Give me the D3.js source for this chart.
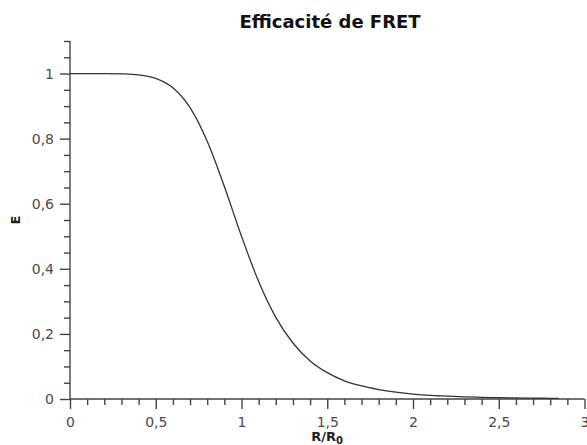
<!DOCTYPE html>
<html>
<head>
<meta charset="utf-8">
<script src="https://cdn.jsdelivr.net/npm/d3@7"></script>
<style>
html,body{margin:0;padding:0;background:#fff;}
svg{display:block;}
text{font-family:"DejaVu Sans",Verdana,sans-serif;}
</style>
</head>
<body>
<svg id="chart" width="587" height="445"></svg>
<script>
// Data
const rValues = [0, 0.1, 0.2, 0.3, 0.4, 0.5, 0.6, 0.7, 0.8, 0.9, 1.0, 1.1, 1.2, 1.3, 1.4, 1.5, 1.6, 1.7, 1.8, 1.9, 2.0, 2.1, 2.2, 2.3, 2.4, 2.5, 2.6, 2.7, 2.8, 2.85];
const eValues = [1.0, 1.0, 1.0, 0.999, 0.996, 0.985, 0.956, 0.895, 0.792, 0.653, 0.50, 0.361, 0.251, 0.172, 0.117, 0.081, 0.056, 0.040, 0.029, 0.021, 0.015, 0.011, 0.0088, 0.0067, 0.0052, 0.0041, 0.0032, 0.0026, 0.0021, 0.0019];
const xTicks = [0, 0.5, 1, 1.5, 2, 2.5, 3];
const xTickLabels = ["0", "0,5", "1", "1,5", "2", "2,5", "3"];
const yTicks = [0, 0.2, 0.4, 0.6, 0.8, 1];
const yTickLabels = ["0", "0,2", "0,4", "0,6", "0,8", "1"];
const title = "Efficacité de FRET";
const yLabel = "E";

const svg = d3.select("#chart");
const x = d3.scaleLinear().domain([0, 3]).range([70, 584.5]);
const y = d3.scaleLinear().domain([0, 1.1]).range([399, 41]);
const axisColor = "#444";

// minor ticks
const xMinor = d3.range(0, 31).map(i => i / 10).filter(v => !xTicks.some(t => Math.abs(t - v) < 1e-9));
const yMinor = d3.range(0, 23).map(i => i / 20).filter(v => !yTicks.some(t => Math.abs(t - v) < 1e-9));

const gx = svg.append("g").attr("transform", `translate(0,${y(0)})`);
gx.call(d3.axisBottom(x).tickValues(xTicks).tickSize(10).tickPadding(8)
  .tickFormat((d, i) => xTickLabels[i]));
const gxm = svg.append("g").attr("transform", `translate(0,${y(0)})`);
gxm.call(d3.axisBottom(x).tickValues(xMinor).tickSize(6).tickFormat(""));
gxm.select(".domain").remove();

const gy = svg.append("g").attr("transform", `translate(${x(0)},0)`);
gy.call(d3.axisLeft(y).tickValues(yTicks).tickSize(10).tickPadding(6)
  .tickFormat((d, i) => yTickLabels[i]));
const gym = svg.append("g").attr("transform", `translate(${x(0)},0)`);
gym.call(d3.axisLeft(y).tickValues(yMinor).tickSize(6).tickFormat(""));
gym.select(".domain").remove();

[gx, gxm, gy, gym].forEach(g => {
  g.selectAll(".domain").attr("stroke", axisColor).attr("stroke-width", 1.4);
  g.selectAll(".tick line").attr("stroke", axisColor).attr("stroke-width", 1.4);
  g.selectAll(".tick text").attr("fill", "#4a4a4a").style("font-size", "14px")
    .style("font-family", "'DejaVu Sans', sans-serif");
});
gx.select(".domain").attr("d", `M${x(0)},0H${x(3)}`);
gy.select(".domain").attr("d", `M0,${y(0)}V${y(1.1)}`);

// curve
const pts = rValues.map((r, i) => [r, eValues[i]]);
svg.append("path")
  .datum(pts)
  .attr("fill", "none")
  .attr("stroke", "#333")
  .attr("stroke-width", 1.3)
  .attr("d", d3.line().x(d => x(d[0])).y(d => y(d[1])).curve(d3.curveMonotoneX));

// title
svg.append("text")
  .attr("x", 330).attr("y", 28)
  .attr("text-anchor", "middle")
  .style("font-size", "18px").style("font-weight", "bold")
  .attr("fill", "#111")
  .text(title);

// x label R/R0
const xl = svg.append("text")
  .attr("x", 327).attr("y", 441)
  .attr("text-anchor", "middle")
  .style("font-size", "13px").style("font-weight", "bold")
  .attr("fill", "#222");
xl.append("tspan").text("R/R");
xl.append("tspan").attr("dy", 3).style("font-size", "10px").text("0");

// y label
svg.append("text")
  .attr("transform", `translate(20,${(y(0) + y(1.1)) / 2}) rotate(-90)`)
  .attr("text-anchor", "middle")
  .style("font-size", "13px").style("font-weight", "bold")
  .attr("fill", "#222")
  .text(yLabel);
</script>
</body>
</html>
